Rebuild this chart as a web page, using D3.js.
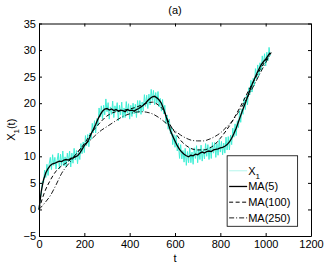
<!DOCTYPE html>
<html>
<head>
<meta charset="utf-8">
<script src="https://cdn.jsdelivr.net/npm/d3@7"></script>
<style>
  body { margin: 0; background: #fff; }
  text { font-family: "Liberation Sans", Arial, sans-serif; }
</style>
</head>
<body>
<div id="graph"></div>
<script>
var x1_t0 = 0, x1_step = 5;
var x1_values = [
  0.0, 2.0, 2.9, 5.3, 5.0, 7.4, 6.0, 8.5, 6.4, 8.6,
  9.8, 7.5, 10.3, 8.3, 9.8, 7.6, 9.2, 10.6, 7.6, 10.4,
  8.3, 11.0, 8.2, 9.9, 8.0, 10.6, 9.0, 11.0, 8.0, 10.6,
  8.7, 11.5, 9.3, 11.1, 8.6, 10.8, 9.4, 12.4, 10.5, 12.7,
  10.7, 13.9, 12.0, 14.1, 11.8, 14.4, 13.2, 16.2, 14.4, 16.7,
  14.4, 17.1, 15.8, 19.1, 17.4, 19.5, 17.0, 19.6, 17.8, 20.8,
  18.4, 20.1, 17.0, 19.3, 17.9, 20.4, 17.3, 19.5, 18.4, 20.1,
  16.7, 19.6, 17.8, 20.2, 17.2, 19.1, 17.3, 20.3, 18.1, 19.9,
  17.0, 19.6, 17.5, 20.0, 18.0, 19.8, 17.3, 20.5, 18.2, 20.5,
  17.9, 20.2, 18.5, 21.6, 19.4, 21.5, 19.0, 21.7, 19.7, 22.6,
  20.5, 22.4, 19.7, 22.0, 20.0, 22.2, 19.3, 20.9, 18.5, 20.7,
  18.0, 19.6, 16.2, 17.8, 15.1, 17.0, 14.2, 15.5, 12.2, 14.1,
  11.7, 13.9, 11.0, 12.5, 9.6, 12.2, 9.5, 11.1, 8.9, 11.5,
  8.3, 10.9, 8.8, 11.6, 8.8, 10.8, 8.5, 11.6, 9.6, 12.0,
  8.8, 11.4, 9.4, 12.1, 9.1, 11.4, 9.5, 12.4, 10.0, 12.2,
  9.4, 11.8, 9.6, 12.6, 10.6, 12.6, 9.8, 12.4, 10.2, 13.1,
  10.8, 12.8, 10.3, 12.5, 10.6, 13.6, 11.2, 13.7, 11.2, 14.0,
  12.2, 15.3, 13.6, 16.1, 13.9, 16.7, 15.4, 18.6, 16.4, 18.9,
  17.9, 20.9, 18.8, 21.5, 19.7, 22.9, 21.6, 24.3, 22.1, 24.7,
  23.3, 26.5, 24.6, 27.2, 25.1, 27.6, 26.1, 28.9, 27.1, 29.3,
  27.0, 29.6, 28.0, 30.5, 28.9
];

// MA(5), every 10 steps
var ma5_step = 10;
var ma5_values = [
  0.0, 3.4, 5.6, 6.9, 7.7, 8.3, 8.6, 8.7, 8.9, 9.1,
  9.0, 9.3, 9.4, 9.3, 9.6, 9.7, 9.9, 10.1, 10.6, 11.3,
  12.0, 12.5, 13.2, 14.2, 15.1, 16.0, 17.0, 17.8, 18.5, 18.9,
  19.0, 18.7, 18.9, 18.6, 18.8, 18.5, 18.7, 18.6, 18.4, 18.8,
  18.6, 18.7, 18.5, 18.8, 19.0, 19.3, 19.6, 20.0, 20.5, 20.9,
  21.2, 21.3, 21.0, 20.6, 20.0, 18.9, 17.6, 16.2, 14.8, 13.8,
  12.9, 12.0, 11.3, 10.8, 10.4, 10.1, 9.9, 10.2, 10.1, 10.4,
  10.3, 10.6, 10.8, 10.6, 10.9, 11.0, 10.9, 11.2, 11.3, 11.4,
  11.6, 11.7, 11.9, 12.2, 12.7, 13.4, 14.3, 15.3, 16.5, 17.7,
  18.9, 20.0, 21.2, 22.4, 23.5, 24.5, 25.5, 26.4, 27.2, 27.8,
  28.3, 28.9, 29.5
];

// MA(100) and MA(250), every 25 steps
var ma_long_t = [0, 25, 50, 75, 100, 125, 150, 175, 200, 225, 250, 275, 300, 325, 350, 375, 400,
                 425, 450, 475, 500, 525, 550, 575, 600, 625, 650, 675, 700, 725, 750, 775, 800,
                 825, 850, 875, 900, 925, 950, 975, 1000, 1024];
var ma100_values = [0.0, 3.3, 5.5, 7.2, 8.2, 8.9, 9.8, 11.0, 12.4, 14.0, 15.4, 16.6, 17.6, 18.2, 18.5, 18.7, 18.9,
                    19.2, 19.6, 20.0, 20.2, 19.7, 18.6, 16.2, 14.5, 13.0, 12.0, 11.4, 11.2, 11.2, 11.5, 12.2, 13.4,
                    14.8, 16.4, 18.3, 20.3, 22.4, 24.4, 26.3, 28.0, 29.5];
var ma250_values = [0.0, 1.2, 2.6, 4.6, 6.8, 8.3, 9.6, 11.0, 12.2, 13.0, 14.0, 14.9, 15.6, 16.3, 17.0, 17.6, 18.0,
                    18.3, 18.4, 18.3, 18.0, 17.4, 16.6, 15.7, 14.8, 14.0, 13.4, 13.0, 12.9, 12.9, 13.2, 13.7, 14.4,
                    15.4, 16.5, 18.0, 19.7, 21.5, 23.5, 25.6, 27.6, 29.5];

var x_ticks = [0, 200, 400, 600, 800, 1000, 1200];
var y_ticks = [-5, 0, 5, 10, 15, 20, 25, 30, 35];
var legend_labels = ['X', 'MA(5)', 'MA(100)', 'MA(250)'];

var Margin = {top: 23.5, right: 16, bottom: 29, left: 39};
var Width = 327, Height = 265;
var InnerWidth = Width - Margin.left - Margin.right;
var InnerHeight = Height - Margin.top - Margin.bottom;

var x = d3.scaleLinear().domain([0, 1200]).range([0, InnerWidth]);
var y = d3.scaleLinear().domain([-5, 35]).range([InnerHeight, 0]);

var x1_data = x1_values.map((v, i) => ({t: x1_t0 + i * x1_step, v: v}));
var ma5_data = ma5_values.map((v, i) => ({t: i * ma5_step, v: v}));
var ma100_data = ma100_values.map((v, i) => ({t: ma_long_t[i], v: v}));
var ma250_data = ma250_values.map((v, i) => ({t: ma_long_t[i], v: v}));

var svg = d3.select("#graph").append("svg")
            .attr("width", Width)
            .attr("height", Height)
            .style("background", "#fff")
            .append("g")
            .attr("transform", "translate(" + Margin.left + "," + Margin.top + ")");

var line = d3.line().x(d => x(d.t)).y(d => y(d.v));
var smooth_line = d3.line().x(d => x(d.t)).y(d => y(d.v)).curve(d3.curveMonotoneX);

svg.append("path").datum(x1_data)
   .attr("d", line)
   .attr("fill", "none")
   .attr("stroke", "#3fefd6")
   .attr("stroke-width", 1);

svg.append("path").datum(ma100_data)
   .attr("d", smooth_line)
   .attr("fill", "none")
   .attr("stroke", "#000")
   .attr("stroke-width", 1)
   .attr("stroke-dasharray", "4,2.5");

svg.append("path").datum(ma250_data)
   .attr("d", smooth_line)
   .attr("fill", "none")
   .attr("stroke", "#000")
   .attr("stroke-width", 0.9)
   .attr("stroke-dasharray", "5,2,1,2");

svg.append("path").datum(ma5_data)
   .attr("d", line)
   .attr("fill", "none")
   .attr("stroke", "#000")
   .attr("stroke-width", 1.3);

// axes: ticks inside on all four sides, labels on left/bottom only
var font = "11px 'Liberation Sans', Arial, sans-serif";
svg.append("g").attr("transform", `translate(0, ${InnerHeight})`)
   .call(d3.axisBottom(x).tickValues(x_ticks).tickFormat(d3.format("d"))
           .tickSizeInner(-3).tickSizeOuter(0).tickPadding(4))
   .style("font", font);
svg.append("g")
   .call(d3.axisLeft(y).tickValues(y_ticks).tickSizeInner(-3).tickSizeOuter(0).tickPadding(3))
   .style("font", font);
svg.append("g")
   .call(d3.axisTop(x).tickValues(x_ticks).tickSizeInner(-3).tickSizeOuter(0).tickFormat(""));
svg.append("g").attr("transform", `translate(${InnerWidth}, 0)`)
   .call(d3.axisRight(y).tickValues(y_ticks).tickSizeInner(-3).tickSizeOuter(0).tickFormat(""));
svg.selectAll(".domain").attr("stroke", "#000").attr("stroke-width", 1);
svg.selectAll(".tick text").attr("fill", "#000");

// title and axis labels
svg.append("text").attr("x", InnerWidth / 2).attr("y", -10)
   .attr("text-anchor", "middle").style("font", font).text("(a)");
svg.append("text").attr("x", InnerWidth / 2).attr("y", InnerHeight + 26)
   .attr("text-anchor", "middle").style("font", font).text("t");

var ylab = svg.append("text")
   .attr("transform", `translate(-24, ${InnerHeight / 2}) rotate(-90)`)
   .attr("text-anchor", "middle").style("font", font);
ylab.append("tspan").text("X");
ylab.append("tspan").attr("dy", 3.5).style("font-size", "8px").text("1");
ylab.append("tspan").attr("dy", -3.5).text("(t)");

// legend
var lg = svg.append("g").attr("transform", `translate(${x(830) }, ${y(10.1)})`);
lg.append("rect").attr("width", 70.5).attr("height", 70.5)
  .attr("fill", "#fff").attr("stroke", "#000").attr("stroke-width", 0.8);
var legend_styles = [
  {stroke: "#9ff3e6", width: 0.8, dash: null},
  {stroke: "#000", width: 1.3, dash: null},
  {stroke: "#000", width: 1, dash: "4,2.5"},
  {stroke: "#000", width: 0.9, dash: "5,2,1,2"}
];
legend_labels.forEach(function(lbl, i) {
  var row = lg.append("g").attr("transform", `translate(0, ${15 + i * 15.7})`);
  row.append("line").attr("x1", 2).attr("x2", 20).attr("y1", 0).attr("y2", 0)
     .attr("stroke", legend_styles[i].stroke)
     .attr("stroke-width", legend_styles[i].width)
     .attr("stroke-dasharray", legend_styles[i].dash);
  var t = row.append("text").attr("x", 21).attr("y", 4).style("font", font);
  t.append("tspan").text(lbl);
  if (i === 0) t.append("tspan").attr("dy", 4).style("font-size", "8px").text("1");
});
</script>
</body>
</html>
